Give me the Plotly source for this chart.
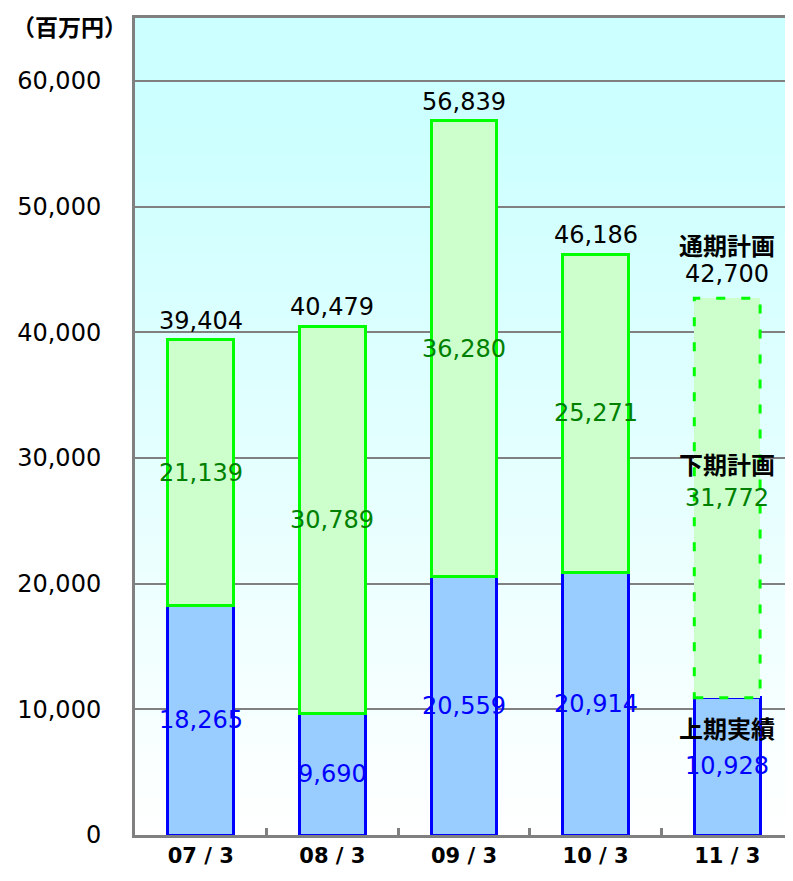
import plotly.graph_objects as go

categories = ["07 / 3", "08 / 3", "09 / 3", "10 / 3", "11 / 3"]
first_half = [18265, 9690, 20559, 20914, 10928]      # 上期実績
second_half = [21139, 30789, 36280, 25271, 31772]    # 下期
totals = [39404, 40479, 56839, 46186, 42700]         # 通期
y_ticks = [0, 10000, 20000, 30000, 40000, 50000, 60000]

NUM_FONT = "DejaVu Sans"
JP_FONT = "Noto Sans CJK JP"
BAR_W = 0.5

fig = go.Figure()

fig.add_trace(go.Bar(
    x=categories, y=first_half, width=BAR_W,
    marker=dict(color="#99CCFF", line=dict(color="#0000FF", width=3)),
    hoverinfo="skip", showlegend=False,
))
n = len(categories)
fig.add_trace(go.Bar(
    x=categories, y=second_half, width=BAR_W,
    marker=dict(color="#CCFFCC",
                line=dict(color="#00FF00", width=[3] * (n - 1) + [0])),
    hoverinfo="skip", showlegend=False,
))

# dashed outline for the plan bar (last category)
i = n - 1
fig.add_shape(type="rect", xref="x", yref="y",
              x0=i - BAR_W / 2, x1=i + BAR_W / 2,
              y0=first_half[i], y1=first_half[i] + second_half[i],
              line=dict(color="#00FF00", width=3, dash="9px,16px"),
              layer="above")

# gradient background
steps = 90
top = (204, 255, 255)
for k in range(steps):
    y0 = k / steps
    y1 = (k + 1) / steps
    f = 1 - (y0 + y1) / 2  # fraction from top
    t = max(0.0, min(1.0, (f - 0.12) / 0.88))
    r = int(round(top[0] + (255 - top[0]) * t))
    fig.add_shape(type="rect", xref="paper", yref="paper",
                  x0=0, x1=1, y0=y0, y1=y1 + 0.002,
                  fillcolor=f"rgb({r},255,255)", line=dict(width=0),
                  layer="below")

fmt = lambda v: f"{v:,}"
num_font = lambda col: dict(family=NUM_FONT, size=24, color=col)

# labels
for k, c in enumerate(categories):
    fig.add_annotation(x=c, y=first_half[k] / 2, text=fmt(first_half[k]),
                       showarrow=False, yanchor="middle", font=num_font("#0000FF"))
    fig.add_annotation(x=c, y=first_half[k] + second_half[k] / 2, text=fmt(second_half[k]),
                       showarrow=False, yanchor="middle", font=num_font("#008000"))
    fig.add_annotation(x=c, y=totals[k], text=fmt(totals[k]),
                       showarrow=False, yanchor="middle", yshift=19 if k < n - 1 else 24,
                       font=num_font("#000000"))

c = categories[-1]
jp = dict(family=JP_FONT, size=24, color="#000000", weight="bold")
fig.add_annotation(x=c, y=totals[-1], text="通期計画", showarrow=False,
                   yanchor="middle", yshift=54, font=jp)
fig.add_annotation(x=c, y=first_half[-1] + second_half[-1] / 2, text="下期計画", showarrow=False,
                   yanchor="middle", yshift=34, font=jp)
fig.add_annotation(x=c, y=first_half[-1] / 2, text="上期実績", showarrow=False,
                   yanchor="middle", yshift=39, font=jp)

fig.add_annotation(xref="paper", yref="paper", x=-0.01, y=1, xanchor="right",
                   yanchor="top", yshift=10, text="（百万円）", showarrow=False,
                   borderpad=0,
                   font=dict(family=JP_FONT, size=23, color="#000000", weight="bold"))

fig.update_layout(
    width=785, height=873,
    margin=dict(l=127, r=0, t=10, b=46, autoexpand=False),
    paper_bgcolor="white", plot_bgcolor="white",
    barmode="stack", bargap=0.5,
    showlegend=False,
)
fig.update_xaxes(
    automargin=False,
    showline=True, linecolor="#808080", linewidth=3, mirror=True,
    ticks="inside", tickson="boundaries", ticklen=7, tickwidth=3, tickcolor="#808080",
    tickfont=dict(family=NUM_FONT, size=21, color="#000000", weight="bold"),
    showgrid=False,
)
fig.update_yaxes(
    automargin=False,
    range=[0, 65000], tickvals=y_ticks, tickformat=",",
    showline=True, linecolor="#808080", linewidth=3,
    ticks="inside", ticklen=7, tickwidth=2, tickcolor="#808080",
    showgrid=True, gridcolor="#808080", gridwidth=2,
    ticklabelstandoff=26,
    tickfont=dict(family=NUM_FONT, size=24, color="#000000"),
    zeroline=False,
)

fig.write_html("out.html")
